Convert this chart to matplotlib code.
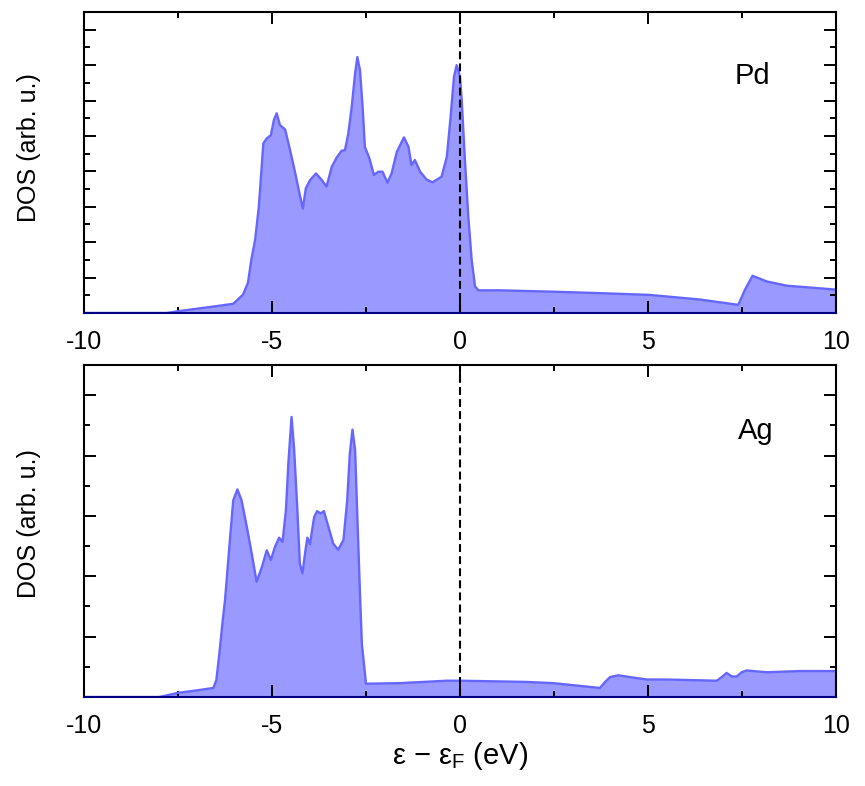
import matplotlib
matplotlib.use("Agg")
import matplotlib.pyplot as plt
from matplotlib.ticker import MultipleLocator

plt.rcParams['font.family'] = ['Liberation Sans', 'DejaVu Sans']
plt.rcParams['mathtext.default'] = 'regular'
plt.rcParams['axes.unicode_minus'] = False

# Pd DOS (arb. u.) vs energy (eV)
pd_energy = [-10.0, -8.0, -7.8, -7.5, -7.0, -6.5, -6.03, -5.77, -5.64, -5.55, -5.45, -5.35,
             -5.23, -5.14, -5.03, -4.95, -4.875, -4.79, -4.65, -4.52, -4.39, -4.27, -4.18,
             -4.10, -3.99, -3.83, -3.68, -3.55, -3.41, -3.28, -3.15, -3.06, -2.97, -2.88,
             -2.79, -2.73, -2.66, -2.59, -2.53, -2.41, -2.29, -2.17, -2.06, -1.93, -1.82,
             -1.68, -1.49, -1.37, -1.29, -1.20, -1.06, -0.89, -0.73, -0.49, -0.35, -0.25,
             -0.16, -0.09, 0.0, 0.045, 0.13, 0.22, 0.31, 0.40, 0.49, 1.06, 2.5, 3.72, 5.05, 6.38,
             7.40, 7.58, 7.78, 8.16, 8.69, 10.0]
pd_dos = [0.0, 0.0, 0.0, 0.05, 0.12, 0.19, 0.26, 0.52, 0.85, 1.5, 2.06, 3.0,
          4.79, 4.93, 5.02, 5.45, 5.64, 5.31, 5.18, 4.6, 3.99, 3.38, 2.95,
          3.52, 3.75, 3.94, 3.76, 3.57, 4.13, 4.39, 4.58, 4.6, 5.07, 5.82,
          6.77, 7.23, 6.86, 5.82, 4.69, 4.37, 3.9, 3.99, 3.99, 3.68, 3.94,
          4.55, 4.96, 4.69, 4.18, 4.32, 3.99, 3.77, 3.69, 3.85, 4.41, 5.54,
          6.67, 7.0, 6.67, 6.02, 4.33, 2.73, 1.5, 0.75, 0.64, 0.64, 0.6, 0.56, 0.51, 0.38,
          0.23, 0.66, 1.05, 0.89, 0.77, 0.66]

# Ag DOS (arb. u.) vs energy (eV)
ag_energy = [-10.0, -8.0, -7.49, -7.0, -6.56, -6.48, -6.40, -6.31, -6.25, -6.12, -6.03, -5.92,
             -5.81, -5.67, -5.54, -5.41, -5.27, -5.14, -5.03, -4.92, -4.81, -4.72, -4.63,
             -4.56, -4.48, -4.41, -4.33, -4.26, -4.19, -4.11, -4.06, -3.99, -3.88, -3.80,
             -3.71, -3.62, -3.50, -3.37, -3.24, -3.10, -3.0, -2.93, -2.86, -2.79, -2.73,
             -2.66, -2.61, -2.50, -1.6, -0.35, 0.02, 1.77, 2.48, 3.72, 3.86, 3.99, 4.21,
             4.52, 4.97, 5.5, 6.83, 6.96, 7.09, 7.23, 7.36, 7.49, 7.62, 8.16, 9.04, 10.0]
ag_dos = [0.0, 0.0, 0.07, 0.11, 0.15, 0.28, 0.72, 1.27, 1.60, 2.6, 3.26, 3.44,
          3.26, 2.82, 2.38, 1.91, 2.15, 2.43, 2.27, 2.49, 2.64, 2.57, 3.09,
          3.92, 4.64, 4.09, 3.15, 2.21, 2.05, 2.43, 2.64, 2.53, 2.98, 3.08,
          3.04, 3.08, 2.82, 2.54, 2.44, 2.6, 3.26, 4.03, 4.43, 4.09, 2.98,
          1.71, 0.88, 0.22, 0.23, 0.27, 0.27, 0.25, 0.23, 0.15, 0.25, 0.33, 0.36,
          0.33, 0.29, 0.29, 0.27, 0.33, 0.40, 0.34, 0.34, 0.41, 0.44, 0.41, 0.43, 0.43]

panels = [("Pd", pd_energy, pd_dos, 8.5, 7.31, 6.46, 0.551),
          ("Ag", ag_energy, ag_dos, 5.5, 7.39, 4.27, 0.521)]

fig = plt.figure(figsize=(8.65, 7.86), dpi=100)
rects = [[0.0971, 0.6018, 0.8694, 0.3829], [0.0971, 0.1132, 0.8694, 0.4224]]

fill_c = '#9999FF'
line_c = '#6666FF'

for rect, (name, e, d, ymax, tx, ty, ly) in zip(rects, panels):
    ax = fig.add_axes(rect)
    ax.fill_between(e, 0, d, color=fill_c, linewidth=0, zorder=1)
    ax.plot(e, d, color=line_c, linewidth=1.7, zorder=2)
    ax.axvline(0, color='black', linestyle=(0, (3.8, 2.0)), linewidth=1.5, zorder=3)
    ax.set_xlim(-10, 10)
    ax.set_ylim(0, ymax)
    ax.xaxis.set_major_locator(MultipleLocator(5))
    ax.xaxis.set_minor_locator(MultipleLocator(2.5))
    ax.yaxis.set_major_locator(MultipleLocator(1))
    ax.yaxis.set_minor_locator(MultipleLocator(0.5))
    ax.tick_params(which='both', direction='in', top=True, right=True, width=1.4)
    ax.tick_params(which='major', length=8.5, labelsize=18, pad=12)
    ax.tick_params(which='minor', length=4)
    ax.tick_params(axis='y', which='both', labelleft=False)
    for s in ax.spines.values():
        s.set_linewidth(1.5)
    ax.spines['bottom'].set_color('#000080')
    ax.spines['bottom'].set_zorder(4)
    ax.set_ylabel('DOS (arb. u.)', fontsize=18)
    ax.yaxis.set_label_coords(-0.057, ly)
    ax.text(tx, ty, name, fontsize=21, ha='left', va='baseline')
    last = ax

last.set_xlabel('ε − ε$_F$ (eV)', fontsize=21)
last.xaxis.set_label_coords(0.5, -0.128)
last.xaxis.label.set_va('top')

fig.savefig('out.png', dpi=100)
